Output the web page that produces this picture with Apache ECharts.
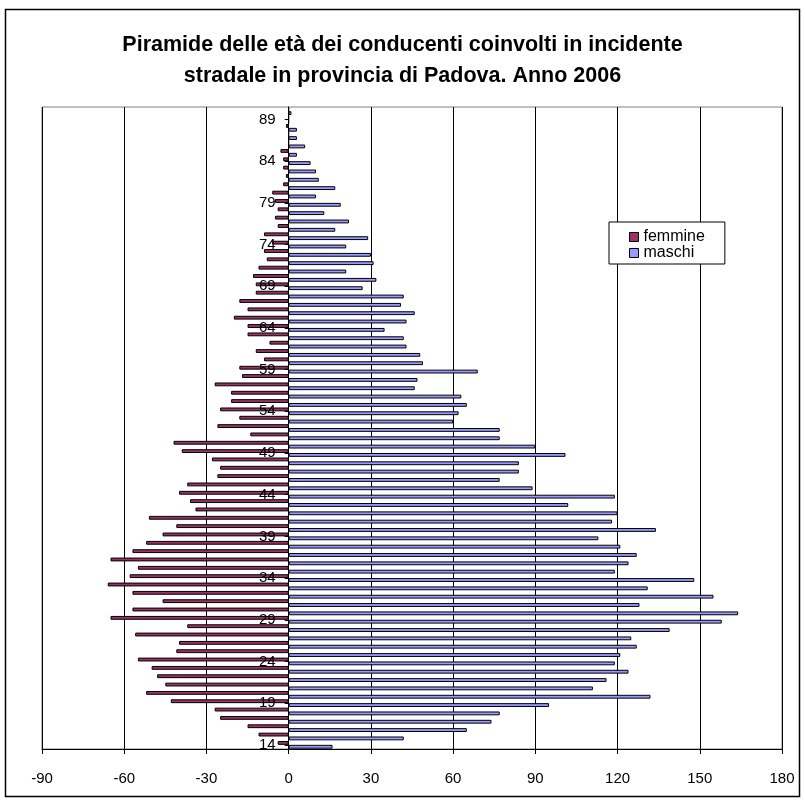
<!DOCTYPE html>
<html>
<head>
<meta charset="utf-8">
<script src="https://cdn.jsdelivr.net/npm/echarts@6/dist/echarts.min.js"></script>
<style>
html,body{margin:0;padding:0;background:#fff;}
#chart{width:805px;height:805px;}
</style>
</head>
<body>
<div id="chart"></div>
<script>
// Ages 14..90
const ages = [];
for (let a = 14; a <= 90; a++) ages.push(String(a));

// femmine (drawn to the left, negative)
const femmine = [
  -4, -11, -15, -25, -27, -43, -52, -45, -48, -50,   // 14-23
  -55, -41, -40, -56, -37, -65, -57, -46, -57, -66,  // 24-33
  -58, -55, -65, -57, -52, -46, -41, -51, -34, -36,  // 34-43
  -40, -37, -26, -25, -28, -39, -42, -14, -26, -18,  // 44-53
  -25, -21, -21, -27, -17, -18, -9, -12, -7, -15,    // 54-63
  -15, -20, -15, -18, -12, -12, -13, -11, -8, -9,    // 64-73
  -6, -9, -4, -5, -4, -5, -6, -2, -1, -2,            // 74-83
  -2, -3, 0, 0, -1, 0, 0                             // 84-90
];

// maschi (drawn to the right)
const maschi = [
  16, 42, 65, 74, 77, 95, 132, 111, 116, 124,        // 14-23
  119, 121, 127, 125, 139, 158, 164, 128, 155, 131,  // 24-33
  148, 119, 124, 127, 121, 113, 134, 118, 120, 102,  // 34-43
  119, 89, 77, 84, 84, 101, 90, 77, 77, 60,          // 44-53
  62, 65, 63, 46, 47, 69, 49, 48, 43, 42,            // 54-63
  35, 43, 46, 41, 42, 27, 32, 21, 31, 30,            // 64-73
  21, 29, 17, 22, 13, 19, 10, 17, 11, 10,            // 74-83
  8, 3, 6, 3, 3, 0, 1                                // 84-90
];

const xTicks = { min: -90, max: 180, interval: 30 };
const titleText = 'Piramide delle età dei conducenti coinvolti in incidente\nstradale in provincia di Padova. Anno 2006';

const FONT = "'Liberation Sans', Arial, sans-serif";
const GRID = { left: 42, right: 23, top: 107, bottom: 56 };
const chart = echarts.init(document.getElementById('chart'), null, { renderer: 'canvas' });

// put the category axis on x = 0 of the value axis
const plotW = 805 - GRID.left - GRID.right;
const zeroOffset = -plotW * (0 - xTicks.min) / (xTicks.max - xTicks.min);

chart.setOption({
  backgroundColor: '#ffffff',
  animation: false,
  title: {
    text: titleText,
    left: 'center',
    top: 25,
    textStyle: { fontFamily: FONT, fontSize: 21.5, fontWeight: 'bold', color: '#000', lineHeight: 31 }
  },
  graphic: [{
    type: 'rect',
    shape: { x: 5.5, y: 9.5, width: 794, height: 787 },
    style: { fill: 'none', stroke: '#000', lineWidth: 1.5 },
    silent: true, z: 100
  }],
  legend: {
    data: ['femmine', 'maschi'],
    orient: 'vertical',
    left: 609,
    top: 222,
    padding: [7, 20, 3, 20],
    itemWidth: 9,
    itemHeight: 9,
    itemGap: 0,
    icon: 'rect',
    backgroundColor: '#fff',
    borderColor: '#000',
    borderWidth: 1,
    itemStyle: { borderColor: '#000', borderWidth: 1 },
    textStyle: { fontFamily: FONT, fontSize: 16, color: '#000', lineHeight: 14 }
  },
  grid: {
    left: GRID.left, right: GRID.right, top: GRID.top, bottom: GRID.bottom,
    show: true, borderColor: '#808080', borderWidth: 1, backgroundColor: '#fff'
  },
  xAxis: {
    type: 'value',
    min: xTicks.min, max: xTicks.max, interval: xTicks.interval,
    axisLine: { show: true, onZero: false, lineStyle: { color: '#000', width: 1 } },
    axisTick: { show: true, length: 5, lineStyle: { color: '#000' } },
    axisLabel: { fontFamily: FONT, fontSize: 15, color: '#000', margin: 22 },
    splitLine: { show: true, lineStyle: { color: '#000', width: 1 } }
  },
  yAxis: {
    type: 'category',
    data: ages,
    z: 10,
    offset: zeroOffset,
    axisLine: { show: true, onZero: false, lineStyle: { color: '#000', width: 1 } },
    axisTick: { show: true, alignWithLabel: true, interval: 4, length: 4, lineStyle: { color: '#000' } },
    axisLabel: { interval: 4, margin: 13, fontFamily: FONT, fontSize: 15, color: '#000' },
    splitLine: { show: false }
  },
  series: [
    {
      name: 'femmine', type: 'bar', data: femmine,
      barGap: '0%', barCategoryGap: '8%',
      itemStyle: { color: '#993366', borderColor: '#000', borderWidth: 1 }
    },
    {
      name: 'maschi', type: 'bar', data: maschi,
      barGap: '0%', barCategoryGap: '8%',
      itemStyle: { color: '#9999FF', borderColor: '#000', borderWidth: 1 }
    }
  ]
});
</script>
</body>
</html>
